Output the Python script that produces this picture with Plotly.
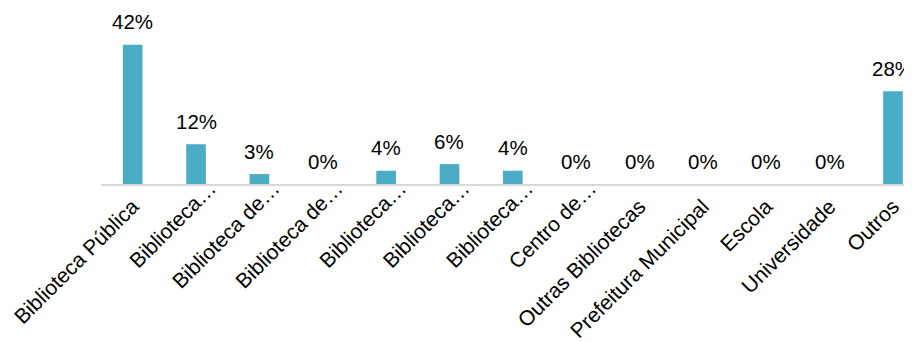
import plotly.graph_objects as go

categories = ["Biblioteca Pública", "Biblioteca…", "Biblioteca de…", "Biblioteca de…",
              "Biblioteca…", "Biblioteca…", "Biblioteca…", "Centro de…",
              "Outras Bibliotecas", "Prefeitura Municipal", "Escola", "Universidade", "Outros"]
values = [42, 12, 3, 0, 4, 6, 4, 0, 0, 0, 0, 0, 28]
value_labels = [f"{v}%" for v in values]

x = list(range(len(categories)))

FONT = "Liberation Sans, Arial, sans-serif"

# truncated labels (ending in an ellipsis) hang past their tick like the original
full_idx = [i for i, c in enumerate(categories) if not c.endswith("…")]
trunc_idx = [i for i, c in enumerate(categories) if c.endswith("…")]

fig = go.Figure()
fig.add_trace(go.Bar(
    x=x, y=values, width=0.31,
    marker=dict(color="#4bacc6", line=dict(width=0)),
    hoverinfo="skip",
))
fig.add_trace(go.Scatter(
    x=trunc_idx, y=[0] * len(trunc_idx), xaxis="x2", mode="markers",
    marker=dict(opacity=0), hoverinfo="skip", showlegend=False,
))

for xi, v, t in zip(x, values, value_labels):
    fig.add_annotation(x=xi, y=v, text=t, showarrow=False, yanchor="middle", yshift=23,
                       font=dict(family=FONT, size=20.5, color="#000000"))

tickfont = dict(family=FONT, size=21, color="#000000")

# page body has an 8px margin, so the figure is drawn 8px smaller and offset
fig.update_layout(
    width=904, height=334,
    margin=dict(l=93, r=0, t=12, b=158),
    paper_bgcolor="white", plot_bgcolor="white",
    showlegend=False,
    font=dict(family=FONT, size=21, color="#000000"),
    xaxis=dict(
        range=[-0.5, 12.3], tickmode="array", tickvals=full_idx,
        ticktext=[categories[i] for i in full_idx],
        tickangle=-45, showline=True, linecolor="#d9d9d9", linewidth=2,
        showgrid=False, zeroline=False, ticks="", tickfont=tickfont,
    ),
    xaxis2=dict(
        range=[-0.5, 12.3], overlaying="x", anchor="y", side="bottom",
        tickmode="array", tickvals=trunc_idx,
        ticktext=[categories[i] for i in trunc_idx],
        tickangle=-45, showline=False, showgrid=False, zeroline=False, ticks="",
        tickfont=tickfont, ticklabelshift=14, ticklabelstandoff=-13,
    ),
    yaxis=dict(range=[0, 49.5], visible=False, showgrid=False, zeroline=False),
)

fig.write_html("out.html")
